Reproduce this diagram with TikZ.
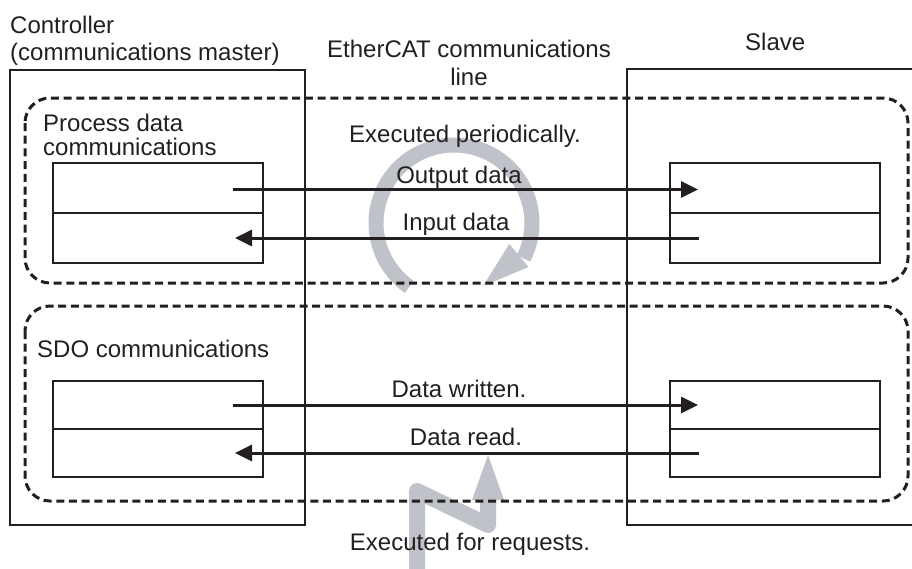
\documentclass[tikz,border=0pt]{standalone}
\usepackage{fontspec}
\setmainfont{Liberation Sans}
\usetikzlibrary{arrows.meta}
\definecolor{ink}{HTML}{231F20}
\definecolor{ring}{HTML}{BFC2C8}
\begin{document}
\begin{tikzpicture}[x=1pt,y=-1pt,
  lbl/.style={inner sep=0pt, font=\fontsize{24}{28}\selectfont, text=ink},
  outerbox/.style={draw=ink, line width=2pt},
  databox/.style={draw=ink, line width=2pt, fill=white, inner sep=0pt, minimum width=210pt},
  divider/.style={draw=ink, line width=1.6pt},
  grp/.style={draw=ink, line width=3pt, dash pattern=on 8pt off 4.7pt, rounded corners=25pt},
  flow/.style={draw=ink, line width=3pt, -{Triangle[length=17pt,width=16pt]}},
  greyband/.style={draw=ring, line width=15pt},
  greyhead/.style={fill=ring, draw=none}]
\useasboundingbox (0,0) rectangle (912,568);

% grey indicators (behind everything)
\draw[greyband] plot[domain=235:-27, samples=90] ({454+78*cos(\x)}, {223-78*sin(\x)});
\coordinate (ringtip) at (483,286);
\fill[greyhead] (509.4,244) -- (528.6,267) -- (ringtip) -- cycle;
\coordinate (zzA) at (417,575);
\coordinate (zzB) at (417,491);
\coordinate (zzC) at (488,525);
\coordinate (zzD) at (488,498);
\draw[greyband, line width=16pt, line join=round] (zzA) -- (zzB) -- (zzC) -- (zzD);
\coordinate (zztip) at (488,455);
\fill[greyhead] (472,500) -- (504,500) -- (zztip) -- cycle;

% outer boxes
\draw[outerbox] (10,70) rectangle (305,525);
\draw[outerbox] (915,69) -- (627,69) -- (627,525) -- (915,525);

% data boxes
\node[databox, minimum height=100pt] (cp) at (158,213) {};
\node[databox, minimum height=100pt] (sp) at (774.5,213) {};
\node[databox, minimum height=96pt] (cs) at (158,429) {};
\node[databox, minimum height=96pt] (ss) at (774.5,429) {};
\draw[divider] (cp.west) -- (cp.east);
\draw[divider] (sp.west) -- (sp.east);
\draw[divider] (cs.west) -- (cs.east);
\draw[divider] (ss.west) -- (ss.east);

% dashed groups
\draw[grp] (25,98) rectangle (908,283);
\draw[grp] (25,306) rectangle (908,501);

% data arrows
\coordinate (o1) at (233,189.5);
\coordinate (o2) at (698,189.5);
\coordinate (i1) at (699,238);
\coordinate (i2) at (235,238);
\coordinate (w1) at (233,405);
\coordinate (w2) at (698,405);
\coordinate (r1) at (699,453);
\coordinate (r2) at (235,453);
\draw[flow] (o1) -- (o2);
\draw[flow] (i1) -- (i2);
\draw[flow] (w1) -- (w2);
\draw[flow] (r1) -- (r2);

% texts
\node[lbl, anchor=base west] (t1) at (10,33) {Controller};
\node[lbl, anchor=base west] (t2) at (10,60) {(communications master)};
\node[lbl, anchor=base] (t3) at (469,57) {EtherCAT communications};
\node[lbl, anchor=base] (t4) at (469,85) {line};
\node[lbl, anchor=base west] (t5) at (745,50) {Slave};
\node[lbl, anchor=base west] (t6) at (43,131) {Process data};
\node[lbl, anchor=base west] (t7) at (43,155) {communications};
\node[lbl, anchor=base] (t8) at (465,142) {Executed periodically.};
\node[lbl, anchor=base] (t9) at (459,183) {Output data};
\node[lbl, anchor=base] (t10) at (456,230) {Input data};
\node[lbl, anchor=base west] (t11) at (37,357) {SDO communications};
\node[lbl, anchor=base] (t12) at (459,397) {Data written.};
\node[lbl, anchor=base] (t13) at (466,445) {Data read.};
\node[lbl, anchor=base] (t14) at (470,550) {Executed for requests.};
\end{tikzpicture}
\end{document}
